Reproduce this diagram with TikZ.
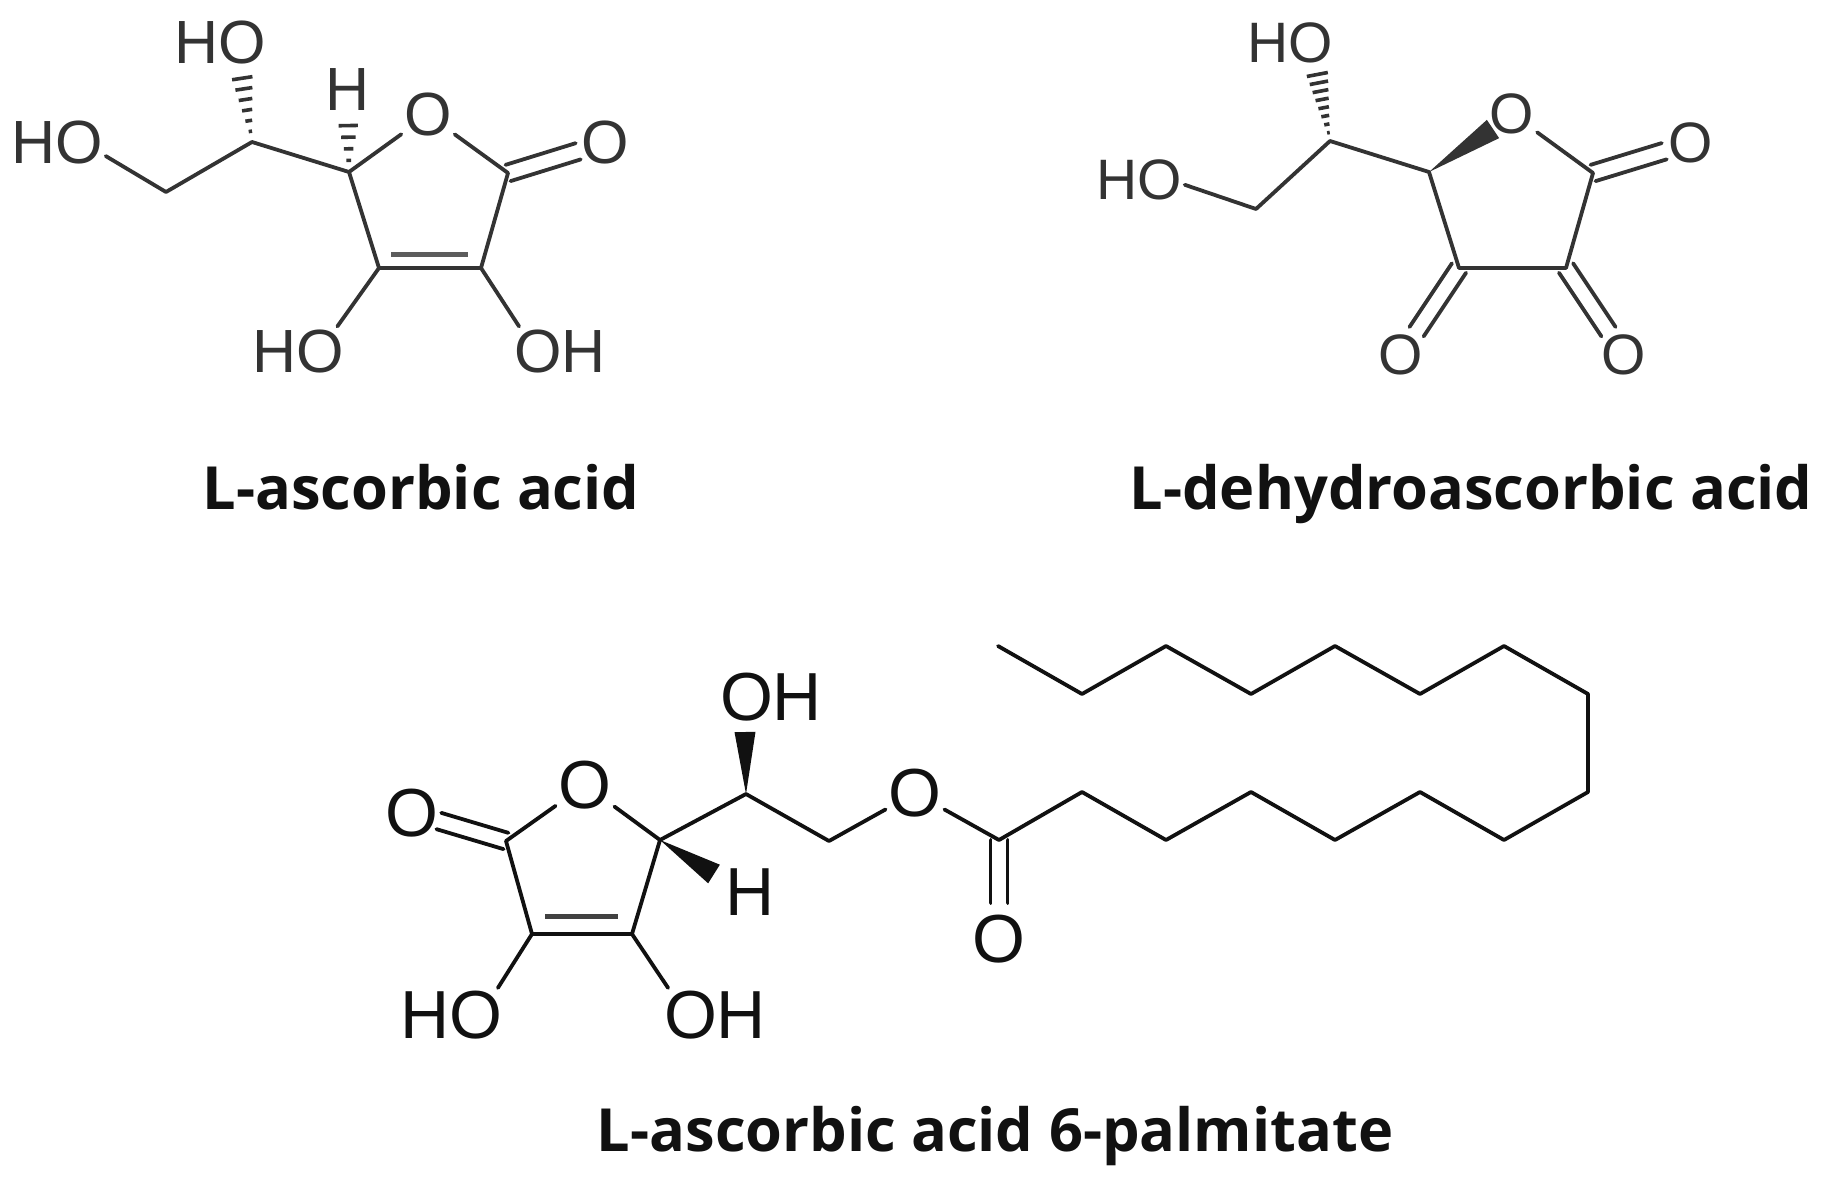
\documentclass[tikz,border=0pt]{standalone}
\usepackage{fontspec}
\setmainfont{Liberation Sans}
\newfontfamily\titlefont{Open Sans}
\usepackage{tikz}
\usepackage{xcolor}
\usetikzlibrary{calc}
\definecolor{ink-soft}{HTML}{333333}
\definecolor{ink-dark}{HTML}{111111}
\tikzset{
    bond/.style = {line width=3.8pt, line cap=round, line join=round},
    inner-bond/.style = {bond, line width=5pt, opacity=0.8, line cap=butt},
    atom/.style = {inner sep=0pt, outer sep=3pt, font=\fontsize{#1}{#1}\selectfont},
    compound-name/.style = {inner sep=0pt, anchor=base, text=ink-dark, font=\titlefont\bfseries\fontsize{59.5}{60}\selectfont},
}
\newcommand{\doublebond}[3][28pt]{
    \draw[bond, shorten >=#1] ($(#2)!8.5pt!90:(#3)$) -- ($(#3)!8.5pt!-90:(#2)$);
    \draw[bond, shorten >=#1] ($(#2)!8.5pt!-90:(#3)$) -- ($(#3)!8.5pt!90:(#2)$);
}
\newcommand{\hashbond}[3]{
    \foreach \i in {1,...,#3}{
        \pgfmathsetmacro{\t}{\i/(#3+1)}
        \pgfmathsetmacro{\w}{\t*12}
        \draw[line width=3.6pt] ($(#1)!\t!(#2)!\w pt!90:(#2)$) -- ($(#1)!\t!(#2)!\w pt!-90:(#2)$);
    }
}
\newcommand{\wedgebond}[3]{
    \fill ($(#1)!0pt!(#2)$) -- ($(#2)!#3!90:(#1)$) -- ($(#2)!#3!-90:(#1)$) -- cycle;
}
\begin{document}
\begin{tikzpicture}[x=1pt, y=-1pt]
\useasboundingbox (0,0) rectangle (1825,1180);

\begin{scope}[color=ink-soft, every node/.append style={atom=61}]
\node (a-ho1) at (220,43) {HO};
\node (a-ho2) at (57,143) {HO};
\node (a-h) at (348,90) {H};
\node (a-o) at (428,115) {O};
\node (a-oc) at (605,143) {O};
\node (a-ho3) at (298,351) {HO};
\node (a-oh) at (560,351) {OH};
\coordinate (a-c6) at (166,192);
\coordinate (a-c5) at (252,142);
\coordinate (a-c4) at (349,172);
\coordinate (a-c1) at (508,173);
\coordinate (a-c2) at (481,268);
\coordinate (a-c3) at (379,268);
\draw[bond] (a-ho2.-15) -- (a-c6) -- (a-c5) -- (a-c4) -- (a-c3) -- (a-c2) -- (a-c1);
\draw[bond] (a-c4) -- (a-o);
\draw[bond] (a-o) -- (a-c1);
\draw[bond] (a-c3) -- (a-ho3.32);
\draw[bond] (a-c2) -- (a-oh.149);
\draw[inner-bond] (391,254) -- (468,254);
\doublebond{a-c1}{a-oc}
\hashbond{a-c5}{a-ho1.-50}{6}
\hashbond{a-c4}{a-h.south}{4}
\end{scope}

\begin{scope}[color=ink-soft, every node/.append style={atom=57}]
\node (b-ho1) at (1290,43) {HO};
\node (b-ho2) at (1139,180) {HO};
\node (b-o) at (1512,114) {O};
\node (b-oc1) at (1691,143) {O};
\node (b-oc2) at (1401,355) {O};
\node (b-oc3) at (1624,355) {O};
\coordinate (b-c6) at (1256,209);
\coordinate (b-c5) at (1330,141);
\coordinate (b-c4) at (1429,172);
\coordinate (b-c1) at (1593,173);
\coordinate (b-c2) at (1566,268);
\coordinate (b-c3) at (1459,268);
\coordinate (b-wedge) at (1493,129);
\draw[bond] (b-ho2.-6) -- (b-c6) -- (b-c5) -- (b-c4) -- (b-c3) -- (b-c2) -- (b-c1);
\draw[bond] (b-o) -- (b-c1);
\doublebond{b-c1}{b-oc1}
\doublebond{b-c3}{b-oc2}
\doublebond{b-c2}{b-oc3}
\hashbond{b-c5}{b-ho1.-42}{8}
\wedgebond{b-c4}{b-wedge}{11pt}
\end{scope}

\begin{scope}[color=ink-dark, every node/.append style={atom=68}]
\node (c-oc) at (412,813) {O};
\node (c-o) at (585,785) {O};
\node (c-oh1) at (771,697) {OH};
\node (c-h) at (750,892) {H};
\node (c-o2) at (915,793) {O};
\node (c-oc2) at (999,939) {O};
\node (c-ho) at (451,1015) {HO};
\node (c-oh2) at (715,1015) {OH};
\coordinate (c-c1) at (506,841);
\coordinate (c-c2) at (532,934);
\coordinate (c-c3) at (632,934);
\coordinate (c-c4) at (660,840);
\coordinate (c-c5) at (746,794);
\coordinate (c-c6) at (829,841);
\coordinate (c-wedge1) at (745,732);
\coordinate (c-wedge2) at (714,874);
\foreach \x/\y [count=\i] in {999/840,1082/792,1166/840,1251/792,1335/840,1420/792,1504/840,1588/792,1588/694,1504/646,1420/694,1335/646,1251/694,1166/646,1082/694,998/646}
    \coordinate (k\i) at (\x,\y);
\draw[bond] (c-o) -- (c-c1) -- (c-c2) -- (c-c3) -- (c-c4);
\draw[bond] (c-o) -- (c-c4) -- (c-c5) -- (c-c6) -- (c-o2);
\draw[bond] (c-o2) -- (k1);
\draw[bond] (c-c2) -- (c-ho.30);
\draw[bond] (c-c3) -- (c-oh2.150);
\draw[inner-bond] (545,916) -- (618,916);
\draw[bond] (k1) \foreach \i in {2,...,16}{ -- (k\i) };
\doublebond{c-c1}{c-oc}
\doublebond[36pt]{k1}{c-oc2}
\wedgebond{c-c5}{c-wedge1}{10.5pt}
\wedgebond{c-c4}{c-wedge2}{11pt}
\end{scope}

\node[compound-name] (name-a) at (421,509.5) {L-ascorbic acid};
\node[compound-name] (name-b) at (1471,509.5) {L-dehydroascorbic acid};
\node[compound-name] (name-c) at (995,1151.5) {L-ascorbic acid 6-palmitate};
\end{tikzpicture}
\end{document}
